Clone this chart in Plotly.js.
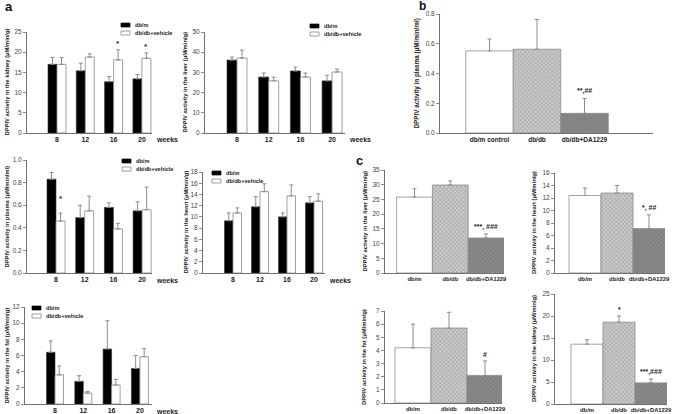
<!DOCTYPE html>
<html><head><meta charset="utf-8">
<script src="https://cdn.plot.ly/plotly-3.0.1.min.js"></script>
<style>html,body{margin:0;padding:0;background:#fff}#chart{width:685px;height:414px}</style>
</head><body><div id="chart"></div>
<script>
// ---------- DATA ----------
const weeks = ['8','12','16','20'];
const seriesNames = ['db/m','db/db+vehicle'];

const kidneyDbm = [17.0, 15.4, 12.7, 13.4];
const kidneyDbmErr = [1.7, 1.9, 1.3, 1.1];
const kidneyVeh = [17.0, 18.8, 18.1, 18.5];
const kidneyVehErr = [1.7, 0.8, 2.5, 1.3];

const liverDbm = [36.1, 27.7, 30.7, 25.8];
const liverDbmErr = [1.5, 2.0, 1.9, 2.8];
const liverVeh = [37.1, 25.8, 27.7, 30.2];
const liverVehErr = [3.9, 1.8, 2.0, 1.4];

const plasmaDbm = [0.83, 0.49, 0.58, 0.55];
const plasmaDbmErr = [0.06, 0.11, 0.04, 0.08];
const plasmaVeh = [0.46, 0.55, 0.39, 0.56];
const plasmaVehErr = [0.07, 0.13, 0.05, 0.20];

const heartDbm = [9.3, 11.8, 10.0, 12.5];
const heartDbmErr = [1.4, 1.8, 0.7, 1.1];
const heartVeh = [10.7, 14.5, 13.75, 12.8];
const heartVehErr = [0.9, 1.4, 1.95, 1.3];

const fatDbm = [6.4, 2.8, 6.8, 4.4];
const fatDbmErr = [1.4, 0.7, 3.5, 1.6];
const fatVeh = [3.6, 1.35, 2.35, 5.85];
const fatVehErr = [1.1, 0.2, 0.7, 1.0];

const groupsB = ['db/m control','db/db','db/db+DA1229'];
const plasmaB = [0.552, 0.563, 0.132];
const plasmaBErr = [0.08, 0.20, 0.10];

const groupsC = ['db/m','db/db','db/db+DA1229'];
const liverC = [25.8, 29.9, 11.9];
const liverCErr = [2.8, 1.4, 1.4];
const heartC = [12.4, 12.8, 7.1];
const heartCErr = [1.2, 1.2, 2.2];
const fatC = [4.2, 5.7, 2.1];
const fatCErr = [1.8, 1.2, 1.1];
const kidneyC = [13.6, 18.6, 4.8];
const kidneyCErr = [1.0, 1.4, 0.9];

// ---------- LAYOUT GEOMETRY (pixels) ----------
const W = 685, H = 414;
const fx = p => p / W;
const fy = p => 1 - p / H;
const FONT = 'Liberation Sans, Arial, sans-serif';
const AX = '#707070', ERR = '#8c8c8c';

const panels = [
  {id:1, L:27,  R:152, c0:57,    s:28.3, top:32,  bot:133, yr:[0,25],  dt:5,   bw:9,   title:'DPPIV activity in the kidney (μM/min/g)', tx:6},
  {id:2, L:205, R:345, c0:237,   s:31.7, top:32,  bot:133, yr:[0,50],  dt:10,  bw:10,  title:'DPPIV activity in the liver (μM/min/g)', tx:184},
  {id:3, L:27,  R:152, c0:56,    s:28.7, top:160, bot:273, yr:[0,1],   dt:0.2, bw:9,   fmt:'.1f', title:'DPPIV activity in plasma (μM/min/ml)', tx:6},
  {id:4, L:203, R:325, c0:233,   s:27,   top:172, bot:273, yr:[0,18],  dt:2,   bw:8.5, title:'DPPIV activity in the heart (μM/min/g)', tx:185},
  {id:5, L:25,  R:152, c0:55,    s:28.3, top:307, bot:404, yr:[0,12],  dt:2,   bw:8.5, title:'DPPIV activity in the fat (μM/min/g)', tx:6},
  {id:6, L:440, R:653, c0:489.5, s:47.5, top:14,  bot:133, yr:[0,0.8], dt:0.2, fmt:'.1f', title:'DPPIV activity in plasma (μM/min/ml)', tx:416, fs:6.5, ts:6.3},
  {id:7, L:385, R:504, c0:414.5, s:35.8, top:170, bot:273, yr:[0,35],  dt:5,   title:'DPPIV activity in the liver (μM/min/g)', tx:364, fs:5.8},
  {id:8, L:555, R:665, c0:585,   s:32,   top:173, bot:273, yr:[0,16],  dt:2,   title:'DPPIV activity in the heart (μM/min/g)', tx:534, fs:5.8},
  {id:9, L:385, R:502, c0:413,   s:36,   top:311, bot:403, yr:[0,7],   dt:1,   title:'DPPIV activity in the fat (μM/min/g)', tx:364, fs:5.8},
  {id:10,L:555, R:667, c0:587,   s:32,   top:294, bot:404, yr:[0,25],  dt:5,   title:'DPPIV activity in the kidney (μM/min/g)', tx:534, fs:5.8}
];

const layout = {
  width: W, height: H, margin:{l:0,r:0,t:0,b:0},
  paper_bgcolor:'#fff', plot_bgcolor:'rgba(0,0,0,0)',
  showlegend:false, barmode:'overlay',
  font:{family:FONT, color:'#222'},
  annotations:[], shapes:[]
};

panels.forEach(p => {
  const xs = p.id === 1 ? '' : String(p.id);
  layout['xaxis'+xs] = {
    type:'category', domain:[fx(p.L), fx(p.R)],
    range:[-(p.c0-p.L)/p.s, (p.R-p.c0)/p.s],
    anchor:'y'+xs, showline:true, linecolor:AX, linewidth:1,
    ticks:'', showgrid:false, zeroline:false, fixedrange:true, tickangle:0,
    tickfont:{family:FONT, size:p.fs || 7, weight:'bold', color:'#222'}
  };
  layout['yaxis'+xs] = {
    domain:[fy(p.bot), fy(p.top)], range:p.yr, dtick:p.dt, tick0:0,
    tickformat:p.fmt || '', anchor:'x'+xs,
    showline:true, linecolor:AX, linewidth:1,
    ticks:'outside', ticklen:3, tickwidth:0.8, tickcolor:AX,
    showgrid:false, zeroline:false, fixedrange:true,
    tickfont:{family:FONT, size:6.5, color:'#444'}
  };
  layout.annotations.push({
    xref:'paper', yref:'paper', x:fx(p.tx), y:fy((p.top+p.bot)/2),
    text:p.title, textangle:-90, showarrow:false, xanchor:'center', yanchor:'middle',
    font:{family:FONT, size:p.ts || 5.8, weight:'bold', color:'#222'}
  });
});

const traces = [];
const zeros = n => new Array(n).fill(0);
function errObj(arr){ return {type:'data', symmetric:false, array:arr, arrayminus:zeros(arr.length), color:ERR, thickness:1, width:2}; }

function pairPanel(p, v1, e1, v2, e2, stars, starShift){
  const xs = p.id === 1 ? '' : String(p.id);
  const w = p.bw / p.s;
  traces.push({type:'bar', name:seriesNames[0], x:weeks, y:v1, xaxis:'x'+xs, yaxis:'y'+xs,
    width:w, offset:-w, marker:{color:'#000', line:{color:'#333', width:0.6}}, error_y:errObj(e1)});
  traces.push({type:'bar', name:seriesNames[1], x:weeks, y:v2, xaxis:'x'+xs, yaxis:'y'+xs,
    width:w, offset:0, marker:{color:'#fff', line:{color:'#888', width:0.8}}, error_y:errObj(e2)});
  (stars||[]).forEach(k => {
    layout.annotations.push({xref:'x'+xs, yref:'y'+xs, x:k + w/2, y:v2[k]+e2[k], text:'*',
      showarrow:false, yanchor:'bottom', yshift:starShift || 0, font:{family:FONT, size:8, weight:'bold', color:'#222'}});
  });
  layout.annotations.push({xref:'paper', yref:'paper', x:fx(p.R+2), y:fy(p.bot+7), text:'weeks',
    showarrow:false, xanchor:'left', yanchor:'middle', font:{family:FONT, size:7, weight:'bold', color:'#222'}});
}

function legendAt(x, y){
  const items = [{fill:'#000', line:'#000'}, {fill:'#fff', line:'#777'}];
  items.forEach((it, k) => {
    const yy = y + k*8;
    layout.shapes.push({type:'rect', xref:'paper', yref:'paper', x0:fx(x), x1:fx(x+9), y0:fy(yy+2), y1:fy(yy-2),
      fillcolor:it.fill, line:{color:it.line, width:0.7}});
    layout.annotations.push({xref:'paper', yref:'paper', x:fx(x+12), y:fy(yy), text:seriesNames[k],
      showarrow:false, xanchor:'left', yanchor:'middle', font:{family:FONT, size:5.6, weight:'bold', color:'#222'}});
  });
}

function triplePanel(p, cats, v, e, notes){
  const xs = String(p.id);
  traces.push({type:'bar', x:cats, y:v, xaxis:'x'+xs, yaxis:'y'+xs, width:1,
    marker:{color:['#ffffff','#c9c9c9','#8a8a8a'], line:{color:'#8c8c8c', width:0.8},
      pattern:{shape:['','x','x'], size:3, solidity:0.25, fgcolor:'#555555', fgopacity:0.45, fillmode:'overlay'}},
    error_y:errObj(e)});
  notes.forEach(n => {
    layout.annotations.push({xref:'x'+xs, yref:'y'+xs, x:n[0], y:v[n[0]]+e[n[0]], text:n[1],
      showarrow:false, yanchor:'bottom', yshift:1, font:{family:FONT, size:7, weight:'bold', color:'#222'}});
  });
}

pairPanel(panels[0], kidneyDbm, kidneyDbmErr, kidneyVeh, kidneyVehErr, [2,3], 0);
pairPanel(panels[1], liverDbm, liverDbmErr, liverVeh, liverVehErr, []);
pairPanel(panels[2], plasmaDbm, plasmaDbmErr, plasmaVeh, plasmaVehErr, [0], 8);
pairPanel(panels[3], heartDbm, heartDbmErr, heartVeh, heartVehErr, []);
pairPanel(panels[4], fatDbm, fatDbmErr, fatVeh, fatVehErr, []);
legendAt(121, 25);
legendAt(310, 26);
legendAt(122, 161);
legendAt(212, 173);
legendAt(32, 308);

triplePanel(panels[5], groupsB, plasmaB, plasmaBErr, [[2,'**,##']]);
triplePanel(panels[6], groupsC, liverC, liverCErr, [[2,'***, ###']]);
triplePanel(panels[7], groupsC, heartC, heartCErr, [[2,'*, ##']]);
triplePanel(panels[8], groupsC, fatC, fatCErr, [[2,'#']]);
triplePanel(panels[9], groupsC, kidneyC, kidneyCErr, [[1,'*'],[2,'***,###']]);

[['a',3,7,13],['b',417,6,12],['c',354,161,13]].forEach(l => {
  layout.annotations.push({xref:'paper', yref:'paper', x:fx(l[1]), y:fy(l[2]), text:l[0],
    showarrow:false, xanchor:'left', yanchor:'middle', font:{family:FONT, size:l[3], weight:'bold', color:'#111'}});
});

Plotly.newPlot('chart', traces, layout, {displayModeBar:false, staticPlot:true});
</script></body></html>
